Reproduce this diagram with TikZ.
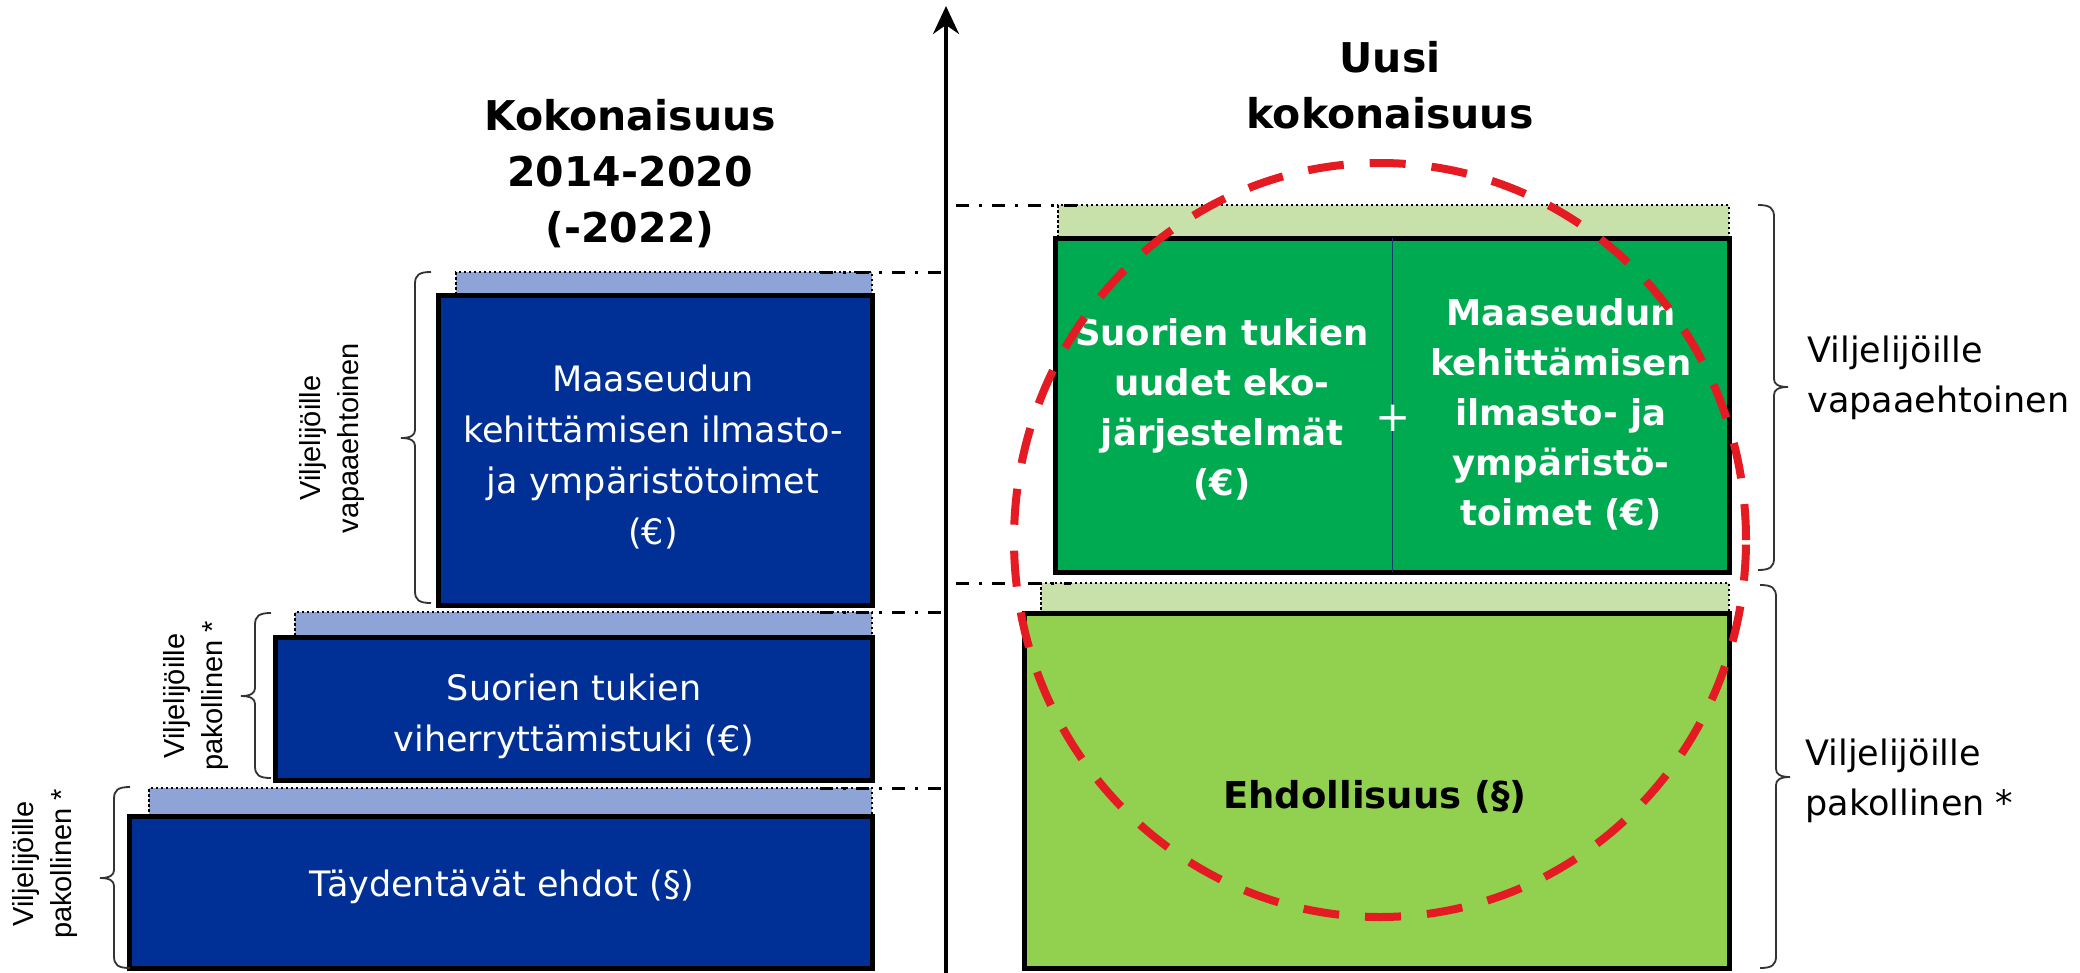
\documentclass[tikz,border=0pt]{standalone}
\usepackage{fontspec}
\setmainfont{DejaVu Sans}
\newfontfamily\arialf{Liberation Sans}
\usetikzlibrary{arrows.meta,shapes.geometric}
\definecolor{boxblue}{RGB}{0,48,150}
\definecolor{stripblue}{RGB}{143,164,214}
\definecolor{darkgreen}{RGB}{0,170,80}
\definecolor{lightgreen}{RGB}{146,208,80}
\definecolor{stripgreen}{RGB}{200,225,170}
\definecolor{ringred}{RGB}{228,27,35}
\definecolor{divblue}{RGB}{20,60,110}
\newcommand\LBr[4]{%
 \draw[bracestyle] ({#1+16},#2) .. controls ({#1+4},#2) and (#1,{#2+3}) .. (#1,{#2+12}) -- (#1,{#3-8}) .. controls (#1,{#3-3}) and ({#1-4},#3) .. ({#1-14},#3) .. controls ({#1-4},#3) and (#1,{#3+3}) .. (#1,{#3+8}) -- (#1,{#4-12}) .. controls (#1,{#4-3}) and ({#1+4},#4) .. ({#1+16},#4);}
\newcommand\RBr[4]{%
 \draw[bracestyle] ({#1-16},#2) .. controls ({#1-4},#2) and (#1,{#2+3}) .. (#1,{#2+12}) -- (#1,{#3-8}) .. controls (#1,{#3-3}) and ({#1+4},#3) .. ({#1+14},#3) .. controls ({#1+4},#3) and (#1,{#3+3}) .. (#1,{#3+8}) -- (#1,{#4-12}) .. controls (#1,{#4-3}) and ({#1-4},#4) .. ({#1-16},#4);}
\begin{document}
\begin{tikzpicture}[x=1pt,y=-1pt,
  boxbase/.style={draw=black, line width=5pt, inner sep=0pt, outer sep=0pt},
  bluebox/.style={boxbase, fill=boxblue},
  greenbox/.style={boxbase, fill=darkgreen},
  lgreenbox/.style={boxbase, fill=lightgreen},
  stripbase/.style={draw=black, line width=2.5pt, dash pattern=on 2.5pt off 2.5pt, inner sep=0pt, outer sep=0pt},
  bstrip/.style={stripbase, fill=stripblue},
  gstrip/.style={stripbase, fill=stripgreen},
  dashdot/.style={line width=3pt, dash pattern=on 13pt off 10pt on 3pt off 10pt},
  bracestyle/.style={line width=1.8pt, draw=black!80},
  axisarrow/.style={line width=3.5pt, -{Stealth[length=28pt,width=26pt,inset=9pt]}},
  wtext/.style={text=white, align=center, font=\fontsize{35}{51}\selectfont},
  gtext/.style={text=white, align=center, font=\bfseries\fontsize{35.5}{50}\selectfont},
  title/.style={align=center, font=\bfseries\fontsize{41}{56}\selectfont},
  rotlabel/.style={rotate=90, align=center, font=\arialf\fontsize{29}{38}\selectfont},
  sidelabel/.style={anchor=west, align=left, font=\fontsize{35}{50}\selectfont},
  ring/.style={draw=ringred, line width=8pt, dash pattern=on 36pt off 26pt, ellipse, inner sep=0pt}
]
\useasboundingbox (0,0) rectangle (2080,972);
\fill[white] (0,0) rectangle (2080,972);

% titles
\node[title] (t1) at (630,174) {Kokonaisuus\\2014-2020\\(-2022)};
\node[title] (t2) at (1390,85) {Uusi\\kokonaisuus};

% left strips and boxes
\node[bstrip, minimum width=416pt, minimum height=23pt] (s1) at (664,283.5) {};
\node[bluebox, minimum width=434pt, minimum height=310pt] (b1) at (655,450) {};
\node[bstrip, minimum width=577pt, minimum height=25pt] (s2) at (583.5,624.5) {};
\node[bluebox, minimum width=597pt, minimum height=143pt] (b2) at (573.5,708.5) {};
\node[bstrip, minimum width=723pt, minimum height=28pt] (s3) at (510.5,802) {};
\node[bluebox, minimum width=743pt, minimum height=152pt] (b3) at (500.5,892) {};

\node[wtext] (b1t) at (653,457) {Maaseudun\\kehittämisen ilmasto-\\ja ympäristötoimet\\(€)};
\node[wtext] (b2t) at (574,716) {Suorien tukien\\viherryttämistuki (€)};
\node[wtext] (b3t) at (502,887) {Täydentävät ehdot (§)};

% right strips and boxes
\node[gstrip, minimum width=671pt, minimum height=33pt] (gs1) at (1393.5,221.5) {};
\node[greenbox, minimum width=674pt, minimum height=334pt] (g1) at (1392,405) {};
\draw[line width=1pt, draw=divblue] (g1.north) -- (g1.south);
\node[gstrip, minimum width=688pt, minimum height=30pt] (gs2) at (1385,598) {};
\node[lgreenbox, minimum width=705pt, minimum height=355pt] (g2) at (1376.5,790.5) {};

\node[gtext] (g1l) at (1222,409) {Suorien tukien\\uudet eko-\\järjestelmät\\(€)};
\node[gtext] (g1r) at (1561,414) {Maaseudun\\kehittämisen\\ilmasto- ja\\ympäristö-\\toimet (€)};
\node[text=white, font=\fontsize{42}{42}\selectfont] (plus) at (1393,418) {+};
\node[font=\bfseries\fontsize{37}{44}\selectfont] (g2t) at (1375,797) {Ehdollisuus (§)};

% axis
\coordinate (axb) at (946,985);
\coordinate (axt) at (946,6);
\draw[axisarrow] (axb) -- (axt);

% dash-dot guide lines
\draw[dashdot] ([xshift=-52pt]s1.north east) -- (s1.north east -| axt);
\draw[dashdot] ([xshift=-52pt]s2.north east) -- (s2.north east -| axt);
\draw[dashdot] ([xshift=-52pt]s3.north east) -- (s3.north east -| axt);
\draw[dashdot] ([xshift=10pt]axt |- gs1.north west) -- ([xshift=30pt]gs1.north west);
\draw[dashdot] ([xshift=10pt]axt |- gs2.north west) -- ([xshift=30pt]gs2.north west);

% braces
\LBr{415}{272}{438}{603}
\LBr{255}{613}{696}{778}
\LBr{114}{787}{878}{968}
\RBr{1774}{205}{387}{570}
\RBr{1776}{585}{777}{968}

% side labels
\node[rotlabel] (l1) at (332,438) {Viljelijöille\\vapaaehtoinen};
\node[rotlabel] (l2) at (196,696) {Viljelijöille\\pakollinen *};
\node[rotlabel] (l3) at (45,864) {Viljelijöille\\pakollinen *};
\node[sidelabel] (r1) at (1804,378) {Viljelijöille\\vapaaehtoinen};
\node[sidelabel] (r2) at (1802,781) {Viljelijöille\\pakollinen *};

% red dashed ring
\node[ring, minimum width=732pt, minimum height=754pt] (ringnode) at (1380,540) {};
\end{tikzpicture}
\end{document}
